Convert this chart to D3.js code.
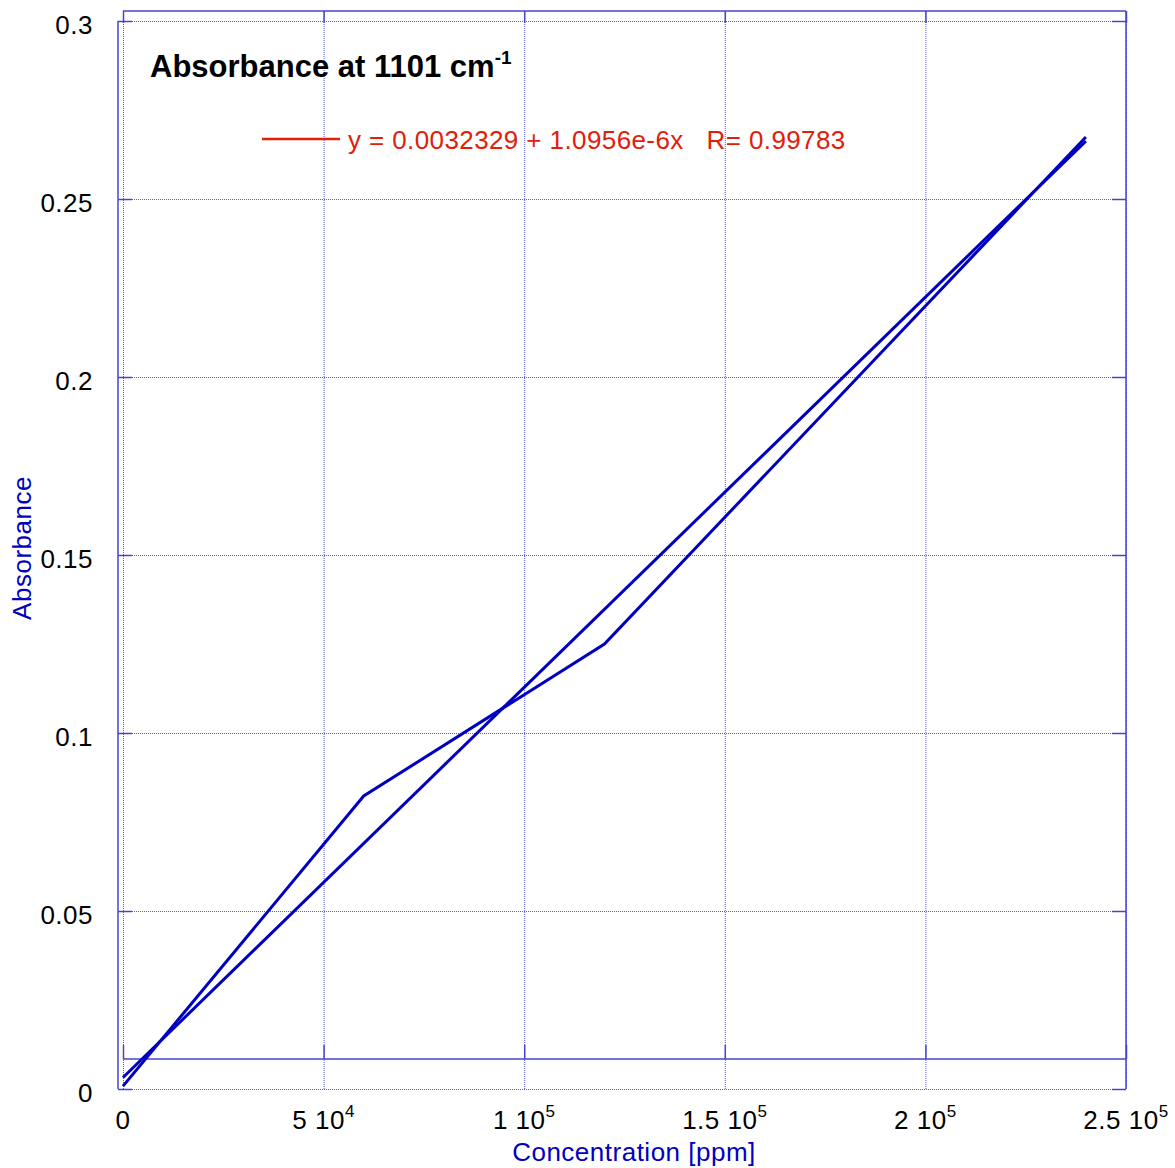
<!DOCTYPE html>
<html>
<head>
<meta charset="utf-8">
<script src="https://cdn.jsdelivr.net/npm/d3@7"></script>
<style>
  body { margin: 0; background: #fff; }
  text { font-family: "Liberation Sans", Arial, sans-serif; }
</style>
</head>
<body>
<div id="chart"></div>
<script>
// Data
var concentration = [0, 60000, 120000, 240000];
var absorbance = [0.0008, 0.0823, 0.125, 0.2674];

// Fit line endpoints (y = 0.0032329 + 1.0956e-6x)
var fitX = [0, 240000];
var fitY = [0.0032329, 0.2662729];

var xTicks = [0, 50000, 100000, 150000, 200000, 250000];
var xTickBase = ["0", "5 10", "1 10", "1.5 10", "2 10", "2.5 10"];
var xTickExp = ["", "4", "5", "5", "5", "5"];
var yTicks = [0, 0.05, 0.1, 0.15, 0.2, 0.25, 0.3];
var yTickLabels = ["0", "0.05", "0.1", "0.15", "0.2", "0.25", "0.3"];

var svgWidth = 1175;
var svgHeight = 1168;

var svg = d3.select("#chart")
  .append("svg")
  .attr("width", svgWidth)
  .attr("height", svgHeight);

var xScale = d3.scaleLinear()
  .domain([0, 250000])
  .range([123, 1126]);

var yScale = d3.scaleLinear()
  .domain([0, 0.3])
  .range([1089, 21]);

var frameColor = "#4545cc";
var gridColor = "#5a5ae0";
var lineColor = "#0000c0";

// Gridlines
// ==============================
var xGrid = svg.append("g")
  .attr("transform", "translate(0, 1089)")
  .call(d3.axisBottom(xScale).tickValues(xTicks).tickSize(-1078).tickFormat(""));
var yGrid = svg.append("g")
  .attr("transform", "translate(118, 0)")
  .call(d3.axisLeft(yScale).tickValues(yTicks).tickSize(-1008).tickFormat(""));
[xGrid, yGrid].forEach(function(g) {
  g.select(".domain").remove();
  g.selectAll("line")
    .attr("stroke", gridColor)
    .attr("stroke-width", 1)
    .attr("stroke-dasharray", "1,1");
});

// Tick marks (inward)
// ==============================
function tickStyle(g) {
  g.select(".domain").remove();
  g.selectAll("line").attr("stroke", frameColor).attr("stroke-width", 1.5);
}
svg.append("g").attr("transform", "translate(118, 0)")
  .call(d3.axisLeft(yScale).tickValues(yTicks).tickSize(-14).tickFormat(""))
  .call(tickStyle);
svg.append("g").attr("transform", "translate(1126, 0)")
  .call(d3.axisRight(yScale).tickValues(yTicks).tickSize(-14).tickFormat(""))
  .call(tickStyle);
svg.append("g").attr("transform", "translate(0, 1059)")
  .call(d3.axisBottom(xScale).tickValues(xTicks).tickSize(-14).tickFormat(""))
  .call(tickStyle);
svg.append("g").attr("transform", "translate(0, 11)")
  .call(d3.axisTop(xScale).tickValues(xTicks).tickSize(-12).tickFormat(""))
  .call(tickStyle);

// Frame lines (two offset boxes as in the original)
var frame = [
  [118, 21, 118, 1089],
  [1126, 11, 1126, 1089],
  [123, 11, 1126, 11],
  [123, 1059, 1126, 1059]
];
svg.selectAll(".frame")
  .data(frame)
  .enter()
  .append("line")
  .attr("x1", d => d[0]).attr("y1", d => d[1])
  .attr("x2", d => d[2]).attr("y2", d => d[3])
  .attr("stroke", frameColor)
  .attr("stroke-width", 1.5);

// Tick labels
// ==============================
svg.selectAll(".ylab")
  .data(yTicks)
  .enter()
  .append("text")
  .attr("x", 93)
  .attr("y", d => yScale(d) + 13)
  .attr("text-anchor", "end")
  .style("font-size", "26px")
  .style("letter-spacing", "0.5px")
  .attr("fill", "#000")
  .text((d, i) => yTickLabels[i]);

var xLab = svg.selectAll(".xlab")
  .data(xTicks)
  .enter()
  .append("text")
  .attr("x", d => xScale(d))
  .attr("y", 1129)
  .attr("text-anchor", "middle")
  .style("font-size", "26px")
  .style("letter-spacing", "0.5px")
  .attr("fill", "#000");
xLab.append("tspan").text((d, i) => xTickBase[i]);
xLab.append("tspan")
  .attr("dy", -12)
  .style("font-size", "17px")
  .text((d, i) => xTickExp[i]);

// Data lines
// ==============================
var line = d3.line()
  .x(d => xScale(d[0]))
  .y(d => yScale(d[1]));

svg.append("path")
  .datum(d3.zip(concentration, absorbance))
  .attr("d", line)
  .attr("fill", "none")
  .attr("stroke", lineColor)
  .attr("stroke-width", 3);

svg.append("path")
  .datum(d3.zip(fitX, fitY))
  .attr("d", line)
  .attr("fill", "none")
  .attr("stroke", lineColor)
  .attr("stroke-width", 3);

// Title and legend
var title = svg.append("text")
  .attr("x", 150)
  .attr("y", 77)
  .style("font-size", "31px")
  .style("font-weight", "bold")
  .attr("fill", "#000");
title.append("tspan").text("Absorbance at 1101 cm");
title.append("tspan").attr("dy", -13).style("font-size", "19px").text("-1");

svg.append("line")
  .attr("x1", 262).attr("x2", 340)
  .attr("y1", 139).attr("y2", 139)
  .attr("stroke", "#e0200a")
  .attr("stroke-width", 2.5);
svg.append("text")
  .attr("x", 348)
  .attr("y", 149)
  .style("font-size", "26px")
  .style("letter-spacing", "0.4px")
  .style("white-space", "pre")
  .attr("fill", "#e0200a")
  .text("y = 0.0032329 + 1.0956e-6x   R= 0.99783");

// Axis titles
svg.append("text")
  .attr("x", 634)
  .attr("y", 1161)
  .attr("text-anchor", "middle")
  .style("font-size", "26px")
  .style("letter-spacing", "0.5px")
  .attr("fill", "#0000c0")
  .text("Concentration [ppm]");

svg.append("text")
  .attr("transform", "translate(31, 548) rotate(-90)")
  .attr("text-anchor", "middle")
  .style("font-size", "26px")
  .style("letter-spacing", "0.5px")
  .attr("fill", "#0000c0")
  .text("Absorbance");
</script>
</body>
</html>
